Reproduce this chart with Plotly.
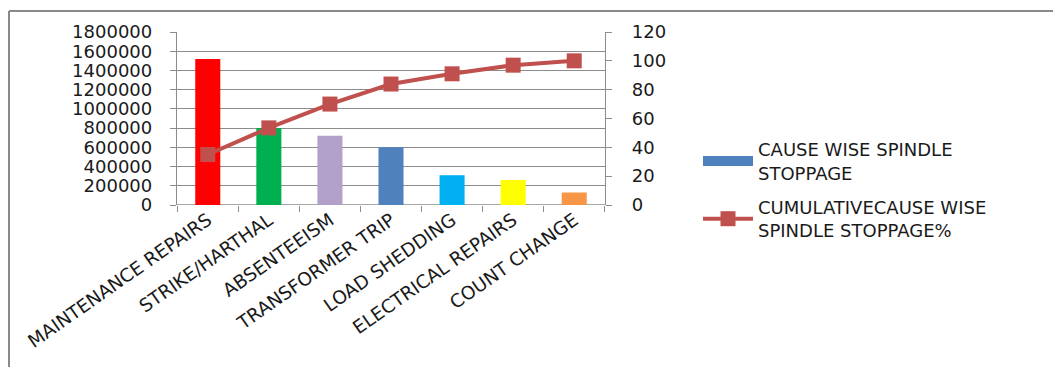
import plotly.graph_objects as go

categories = ["MAINTENANCE REPAIRS", "STRIKE/HARTHAL", "ABSENTEEISM", "TRANSFORMER TRIP",
              "LOAD SHEDDING", "ELECTRICAL REPAIRS", "COUNT CHANGE"]
stoppage = [1520000, 800000, 720000, 600000, 310000, 260000, 130000]
cumulative_pct = [35.0, 53.5, 70.0, 83.9, 91.0, 97.0, 100.0]
bar_colors = ["#FF0000", "#00B050", "#B1A0C7", "#4F81BD", "#00B0F0", "#FFFF00", "#F79646"]
left_ticks = [0, 200000, 400000, 600000, 800000, 1000000, 1200000, 1400000, 1600000, 1800000]
right_ticks = [0, 20, 40, 60, 80, 100, 120]

W, H = 1053, 367
L, R, T, B = 177, 605, 32, 205  # plot area in pixels
FONT = "DejaVu Sans"
TXT = "#1a1a1a"
GRID = "#8c8c8c"

fig = go.Figure()
fig.add_trace(go.Bar(x=categories, y=stoppage, marker=dict(color=bar_colors, line=dict(width=0)),
                     width=0.41, showlegend=False, hoverinfo="x+y", legendgroup="a"))
# legend entry for the bar series (Excel shows series colour as a wide swatch)
fig.add_trace(go.Scatter(x=[categories[0]], y=[None], mode="lines",
                         line=dict(color="#4F81BD", width=10), legendgroup="a",
                         name="CAUSE WISE SPINDLE<br>STOPPAGE", showlegend=True))
fig.add_trace(go.Scatter(x=categories, y=cumulative_pct, yaxis="y2", mode="lines+markers",
                         line=dict(color="#C0504D", width=4), legendgroup="b",
                         marker=dict(symbol="square", size=15, color="#C0504D"),
                         name="CUMULATIVECAUSE WISE<br>SPINDLE STOPPAGE%"))

def px_x(p):
    return (p - L) / (R - L)

def px_y(p):
    return (B - p) / (B - T)

fig.update_layout(
    width=W, height=H,
    margin=dict(l=L, r=W - R, t=T, b=H - B, pad=0),
    paper_bgcolor="white", plot_bgcolor="white",
    barmode="overlay",
    font=dict(family=FONT, size=17, color=TXT),
    xaxis=dict(type="category", tickangle=-35, tickson="boundaries", ticks="outside",
               ticklen=6, tickcolor=GRID, showline=False, showgrid=False,
               tickfont=dict(size=18.5), zeroline=False),
    yaxis=dict(range=[0, 1800000], tickvals=left_ticks, ticktext=[str(v) for v in left_ticks],
               showgrid=True, gridcolor=GRID, gridwidth=1.3, showline=True, linecolor=GRID,
               linewidth=1.3, ticks="outside", ticklen=6, tickcolor=GRID,
               ticklabelstandoff=14, zeroline=False, tickfont=dict(size=18)),
    yaxis2=dict(range=[0, 120], tickvals=right_ticks, overlaying="y", side="right",
                showgrid=False, showline=True, linecolor=GRID, linewidth=1.3,
                ticks="outside", ticklen=6, tickcolor=GRID, ticklabelstandoff=16,
                zeroline=False, tickfont=dict(size=18)),
    legend=dict(x=px_x(698), y=px_y(131), xanchor="left", yanchor="top",
                font=dict(size=18, color=TXT), itemwidth=50, tracegroupgap=8,
                traceorder="grouped", bgcolor="rgba(0,0,0,0)"),
    shapes=[
        dict(type="line", xref="paper", yref="paper", x0=px_x(9), x1=px_x(W + 5),
             y0=px_y(11), y1=px_y(11), line=dict(color="#8a8a8a", width=2)),
        dict(type="line", xref="paper", yref="paper", x0=px_x(9), x1=px_x(9),
             y0=px_y(11), y1=px_y(H + 5), line=dict(color="#8a8a8a", width=2)),
        dict(type="line", xref="paper", yref="y", x0=0, x1=1, y0=0, y1=0,
             line=dict(color=GRID, width=1.3), layer="below"),
    ],
)

fig.write_html("out.html")
